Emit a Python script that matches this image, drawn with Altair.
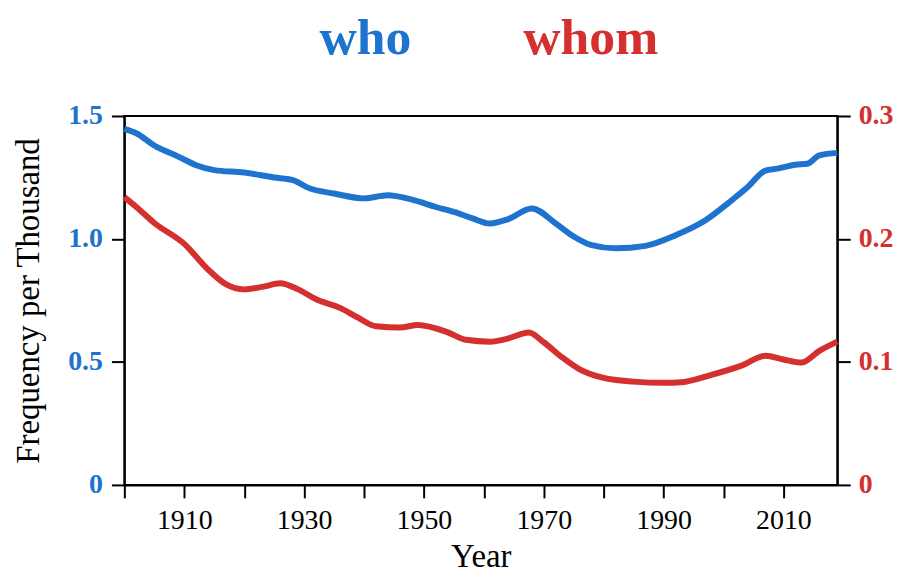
import altair as alt
import pandas as pd

# ---- data ----
who_years = [1900, 1902, 1905, 1909, 1912, 1915, 1920, 1925, 1928, 1931, 1935, 1940,
             1944, 1948, 1952, 1955, 1958, 1961, 1964, 1968, 1972, 1975, 1978, 1982,
             1987, 1992, 1997, 2001, 2004, 2007, 2009, 2012, 2014, 2016, 2019]
who_vals = [1.448, 1.43, 1.38, 1.335, 1.30, 1.28, 1.27, 1.25, 1.24, 1.205, 1.185, 1.165,
            1.178, 1.16, 1.13, 1.11, 1.085, 1.063, 1.08, 1.124, 1.063, 1.01, 0.975, 0.962,
            0.972, 1.015, 1.076, 1.15, 1.21, 1.278, 1.286, 1.302, 1.306, 1.34, 1.35]

whom_years = [1900, 1902, 1905, 1910, 1914, 1917, 1920, 1923, 1926, 1929, 1932, 1936,
              1939, 1942, 1946, 1949, 1954, 1957, 1961, 1964, 1967.5, 1970, 1973, 1976,
              1980, 1985, 1990, 1993, 1998, 2003, 2007, 2010, 2013, 2016, 2019]
whom_vals = [0.234, 0.226, 0.213, 0.196, 0.175, 0.163, 0.159, 0.161, 0.164, 0.159, 0.151, 0.144,
             0.136, 0.129, 0.128, 0.130, 0.124, 0.118, 0.1165, 0.119, 0.124, 0.116, 0.104, 0.094,
             0.087, 0.084, 0.083, 0.0835, 0.0895, 0.097, 0.105, 0.102, 0.0995, 0.109, 0.1165]

x_ticks = list(range(1900, 2011, 10))
left_ticks = [0, 0.5, 1.0, 1.5]
right_ticks = [0, 0.1, 0.2, 0.3]
title_words = ["who", "whom"]

BLUE = "#1e73cf"
RED = "#d3302f"
FONT = "Liberation Serif"

who_df = pd.DataFrame({"Year": who_years, "v": who_vals})
whom_df = pd.DataFrame({"Year": whom_years, "v": whom_vals})

x_scale = alt.Scale(domain=[1900, 2019], nice=False, zero=False)
lbl = "datum.value == 0 ? '0' : format(datum.value, '.1f')"

x_axis = alt.Axis(values=x_ticks,
                  labelExpr="datum.value % 20 == 10 ? '' + datum.value : ''",
                  title="Year", labelFont=FONT, labelFontSize=28, labelColor="black",
                  labelPadding=9, titleFont=FONT, titleFontSize=33,
                  titleFontWeight="normal", titleX=358.5, titleY=82,
                  titleBaseline="alphabetic", titleAlign="center")

who_line = alt.Chart(who_df).mark_line(
    color=BLUE, strokeWidth=6, interpolate="monotone", strokeCap="butt"
).encode(
    x=alt.X("Year:Q", scale=x_scale, axis=x_axis),
    y=alt.Y("v:Q", scale=alt.Scale(domain=[0, 1.5], nice=False),
            axis=alt.Axis(orient="left", values=left_ticks, labelExpr=lbl,
                          labelFont=FONT, labelColor=BLUE, labelFontWeight="bold",
                          labelFontSize=28, labelPadding=9,
                          title="Frequency per Thousand", titleFont=FONT,
                          titleFontSize=33, titleFontWeight="normal", titleColor="black",
                          titleAngle=270, titleX=-86, titleY=185.5,
                          titleBaseline="alphabetic", titleAlign="center")),
)

whom_line = alt.Chart(whom_df).mark_line(
    color=RED, strokeWidth=6, interpolate="monotone", strokeCap="butt"
).encode(
    x=alt.X("Year:Q", scale=x_scale, axis=x_axis),
    y=alt.Y("v:Q", scale=alt.Scale(domain=[0, 0.3], nice=False),
            axis=alt.Axis(orient="right", values=right_ticks, labelExpr=lbl,
                          labelFont=FONT, labelColor=RED, labelFontWeight="bold",
                          labelFontSize=28, labelPadding=8, title=None)),
)

who_title = alt.Chart(pd.DataFrame({"w": [title_words[0]]})).mark_text(
    font=FONT, fontSize=52, fontWeight="bold", color=BLUE,
    align="center", baseline="alphabetic"
).encode(text="w:N", x=alt.value(242.5), y=alt.value(-62))

whom_title = alt.Chart(pd.DataFrame({"w": [title_words[1]]})).mark_text(
    font=FONT, fontSize=52, fontWeight="bold", color=RED,
    align="center", baseline="alphabetic"
).encode(text="w:N", x=alt.value(469), y=alt.value(-62))

chart = alt.layer(who_line, whom_line, who_title, whom_title).resolve_scale(
    y="independent"
).properties(
    width=717, height=371,
    autosize=alt.AutoSizeParams(type="none"),
    padding={"left": 117, "top": 107, "right": 56, "bottom": 90},
).configure_view(
    stroke="black", strokeWidth=2
).configure_axis(
    grid=False, domainColor="black", domainWidth=2, tickColor="black",
    tickWidth=2, tickSize=13, labelFont=FONT, titleFont=FONT,
)

chart.save("out.html", embed_options={"renderer": "svg", "actions": False})
